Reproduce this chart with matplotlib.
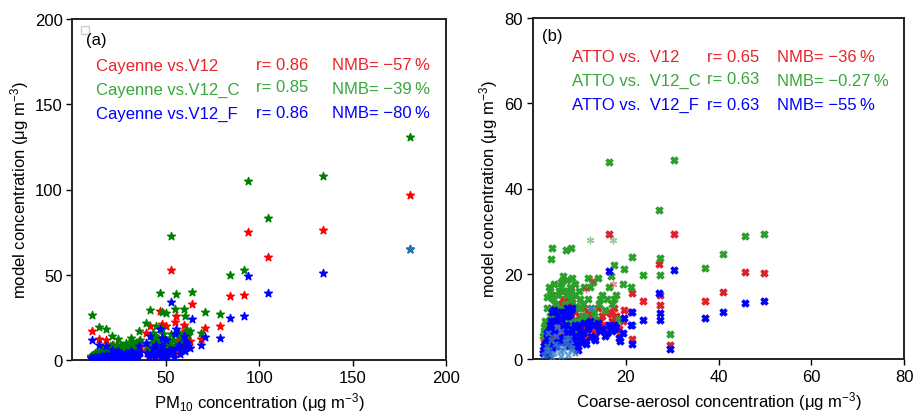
import matplotlib
matplotlib.use("Agg")
import matplotlib.pyplot as plt
from matplotlib.patches import Rectangle

plt.rcParams['font.family'] = ['Liberation Sans', 'DejaVu Sans']
plt.rcParams['mathtext.fontset'] = 'custom'
plt.rcParams['mathtext.rm'] = 'Liberation Sans'
plt.rcParams['mathtext.it'] = 'Liberation Sans'

# ---------------- Panel (a) data: Cayenne PM10 vs model ----------------
obs_a = [181, 134, 94, 105, 53, 84.4, 92, 64, 79, 71, 69, 55.6, 46.7, 41.7, 60, 60.5,
         55, 48, 50, 39.5, 35.6, 10.5, 14.4, 18, 21.5, 24.5, 31.6, 61.5, 57, 45, 43,
         52, 47, 50, 42, 40,
         10, 11, 12, 13, 14, 15, 16, 17, 18, 19, 20, 21, 22, 23, 24, 25, 26, 27, 28,
         29, 30, 31, 32, 33, 34, 35, 36,
         43, 44, 46, 48, 49, 51, 53, 54, 56, 58, 59, 62,
         10.8, 12.5, 14.8, 16.5, 19.5, 22.5, 25.5, 27.5, 29.5, 32.5, 34.5,
         41, 42.5, 44.5, 45.5, 47.5, 48.5, 50.5, 52.5, 54.5, 57.5, 60.5, 63]
v12_a = [97, 76, 75, 60.5, 53, 37.5, 38, 33, 19.7, 18.6, 12.5, 26, 28.5, 20, 20.5, 17,
         22.5, 21, 20, 16, 11, 17, 12.6, 11.8, 9, 8, 8, 14, 12, 13, 10,
         8, 6, 4, 5, 6,
         1.5, 2, 2.5, 3, 2, 3.5, 4, 3, 5, 4, 5.5, 3, 6, 4.5, 5, 3, 6, 5, 4,
         6.5, 5, 3.5, 7, 5, 6, 4, 7.5,
         7, 9, 5, 11, 8, 6, 9, 7, 10, 8, 9, 10,
         1, 1.5, 2, 2.5, 2, 3, 2.5, 3.5, 3, 4, 5,
         3, 6, 4, 8, 3, 9, 5, 7, 4, 6, 8, 11]
v12c_a = [131, 108, 105, 83.5, 73, 50, 53, 40, 27, 28, 16, 39, 39.5, 29.5, 30, 26,
          30, 28, 27.5, 21.5, 17, 26.5, 19.5, 18, 14, 12.6, 13, 17.5, 16, 20, 16,
          12, 10, 8, 8, 9,
          2.5, 3, 4, 4.5, 3, 5, 6, 5, 7.5, 6, 8, 5, 9, 7, 8, 5, 9, 8.5, 6,
          10, 8, 6, 11, 8, 10, 7, 12,
          12, 14, 9, 18, 13, 11, 15, 12, 16, 13, 14, 15,
          1.5, 2.5, 3, 4, 3.5, 5, 4, 6, 5, 6.5, 8,
          5, 10, 7, 13, 5, 15, 8, 11, 7, 10, 13, 17]
v12f_a = [65, 51, 49, 39.5, 34, 24.5, 25.7, 24, 13, 13.4, 8.7, 18, 18, 14, 14, 11,
          15, 13, 12, 10, 8, 12, 9, 8, 6, 5.5, 5, 10, 9, 9, 7,
          6, 4, 2, 3, 4,
          1, 1, 1.5, 1.5, 1, 2, 2.5, 1.5, 3, 2, 3, 1.5, 3.5, 2.5, 3, 1.5, 3.5, 3, 2,
          4, 3, 2, 4, 3, 3.5, 2, 4.5,
          4, 6, 3, 8, 5, 4, 6, 5, 7, 6, 7, 8,
          0.5, 0.8, 1, 1.2, 1, 1.5, 1.2, 2, 1.5, 2, 2.5,
          1.5, 3.5, 2, 5, 1.5, 6, 3, 4.5, 2, 3.5, 5, 7]

labels_a = ["Cayenne vs.V12", "Cayenne vs.V12_C", "Cayenne vs.V12_F"]
r_a = ["r= 0.86", "r= 0.85", "r= 0.86"]
nmb_a = ["NMB= \u221257\u2009%", "NMB= \u221239\u2009%", "NMB= \u221280\u2009%"]

# ---------------- Panel (b) data: ATTO coarse aerosol vs model ----------------
obs_b = [16.5, 30.4, 27.2, 27.4, 27.3, 45.7, 49.9, 40.9, 37.1, 29.5, 23.8, 21.4, 21.4,
         19.7, 19.5, 18.9, 17.4, 16.8, 21.2, 4.15, 4.0, 7.2, 8.2,
         2.2, 2.5, 2.8, 3.0, 3.2, 3.5, 3.8, 4.0, 4.2, 4.5, 4.8, 5.0, 5.3, 5.6, 6.0,
         6.3, 6.6, 7.0, 7.3, 7.6, 8.0, 8.3, 8.6, 9.0, 9.4, 9.8, 10.2, 10.6, 11.0,
         11.5, 12.0, 12.5, 13.0, 13.5, 14.0, 14.5, 15.0, 15.5, 16.0, 16.5, 17.0,
         17.5, 18.0, 18.5,
         2.4, 2.7, 3.1, 3.4, 3.7, 4.1, 4.4, 4.7, 5.1, 5.4, 5.8, 6.1, 6.5, 6.8, 7.1,
         7.5, 7.8, 8.2, 8.5, 8.8, 9.2, 9.6, 10.0, 10.4, 10.8, 11.2, 11.8, 12.3, 13.2,
         14.2]
v12_b = [29.4, 29.4, 22.3, 15, 12.6, 20.3, 20.1, 15.8, 13.6, 3.4, 13.5, 15.6, 4.8,
         11.6, 9, 6, 12, 10.5, 11, 15, 12, 14, 16,
         2.0, 4.0, 3.0, 6.0, 2.5, 8.0, 5.0, 9.5, 3.5, 11.0, 6.5, 4.0, 10.0, 7.5, 12.0,
         5.5, 14.0, 8.0, 16.0, 6.0, 13.0, 9.5, 4.5, 11.0, 7.0, 3.0, 9.0, 6.0, 12.0,
         5.0, 10.5, 8.0, 11.0, 6.0, 12.0, 9.0, 10.0, 7.5, 8.0, 11.0, 9.0,
         8.5, 10.0, 7.0,
         3, 5, 7, 4, 9, 6, 10, 8, 5, 11, 7, 13, 9, 6, 10,
         12, 5, 8, 14, 7, 9, 5, 10, 7, 8, 6, 9, 11, 7, 9]
v12c_b = [46.3, 46.6, 35, 23.7, 19.8, 28.8, 29.4, 24.6, 21.4, 5.8, 19.6, 24, 7.9,
          21, 17.5, 9.5, 22, 19.5, 17, 26.1, 23.5, 25.5, 26,
          5.5, 7.5, 8.0, 14.5, 5.0, 17.0, 10.0, 15.0, 7.0, 17.5, 12.0, 9.0, 11.5, 16.0,
          18.0, 10.5, 19.5, 13.0, 18.5, 11.0, 17.0, 15.5, 8.5, 17.5, 12.5, 6.0, 14.0,
          10.0, 17.0, 9.5, 19.0, 12.0, 18.0, 9.5, 19.0, 14.0, 15.0, 11.5, 14.0, 17.0,
          13.0, 14.0, 15.0, 9.5,
          6, 9, 12, 8, 16, 11, 14, 13, 10, 15, 12, 17, 16, 11, 15,
          16, 9, 14, 19, 12, 15, 9, 16, 12, 13, 10, 14, 17, 11, 13]
v12f_b = [20.7, 20.8, 15.6, 10.8, 9.1, 13.2, 13.5, 11, 9.6, 2.3, 9.1, 11, 3.5,
          9.6, 6, 4.2, 8, 7, 8, 11, 9, 10, 11.5,
          1.5, 3.0, 2.0, 5.0, 1.0, 6.5, 3.5, 7.0, 2.5, 11.5, 4.5, 3.0, 9.0, 5.0, 9.5,
          4.0, 11.0, 6.0, 12.0, 4.5, 10.5, 7.0, 3.0, 8.0, 5.5, 2.0, 6.5, 4.0, 8.5,
          3.5, 7.5, 5.5, 8.0, 4.5, 8.5, 6.5, 7.0, 5.5, 6.0, 8.0, 6.5,
          7.0, 7.5, 5.0,
          2, 3.5, 6, 2.5, 8, 4, 9, 6.5, 3, 10, 5, 11, 7.5, 4, 8,
          10, 3, 6, 12, 5, 7.5, 3.5, 8, 5, 6, 4, 7, 9, 5, 7]
# overlapping faint series near the origin
obs_b_ov = [2.5, 3.0, 3.5, 4.0, 4.5, 5.0, 5.5, 6.0, 6.5, 7.0, 7.5, 8.0, 8.5, 9.0,
            3.2, 4.2, 5.2, 6.2, 7.2, 8.2, 12.5, 2.8, 3.8, 4.8, 5.8, 6.8, 7.8]
mod_b_ov = [1.0, 3.0, 2.0, 4.5, 1.5, 5.5, 3.0, 6.5, 2.0, 4.0, 1.0, 3.5, 2.5, 1.5,
            6.0, 0.5, 7.5, 0.8, 5.0, 2.2, 12.0, 2.0, 1.2, 3.5, 1.8, 2.8, 5.0]
# faint asterisk points
ast_x = [12.3, 17.3, 17.2, 12.8, 11.5]
ast_y = [28.0, 28.0, 17.7, 18.5, 16.5]
ast_c = ['g', 'g', 'r', 'r', 'r']

labels_b = ["ATTO vs.  V12", "ATTO vs.  V12_C", "ATTO vs.  V12_F"]
r_b = ["r= 0.65", "r= 0.63", "r= 0.63"]
nmb_b = ["NMB= \u221236\u2009%", "NMB= \u22120.27\u2009%", "NMB= \u221255\u2009%"]

# ---------------- Figure ----------------
fig = plt.figure(figsize=(9.19, 4.14), dpi=100)
W, H = 919, 414
axa = fig.add_axes([72.3 / W, 1 - 361 / H, (446 - 72.3) / W, (361 - 20) / H])
axb = fig.add_axes([532.7 / W, 1 - 360 / H, (904.3 - 532.7) / W, (360 - 19) / H])

pa_cols = ['#ff0000', '#008000', '#0000ff']
ta_cols = ['#e8232a', '#3aa63a', '#0000ff']
pb_cols = ['#e0202a', '#2ca02c', '#0000ff']

ms_a = 34
for yv, c in zip([v12_a, v12c_a, v12f_a], pa_cols):
    axa.scatter(obs_a, yv, marker='*', s=ms_a, color=c, edgecolors=c, lw=1.0, zorder=3)
axa.scatter([obs_a[0]], [v12f_a[0]], marker='*', s=ms_a, color='#1f77b4',
            edgecolors='#1f77b4', lw=1.0, zorder=4)

ms_b = 26
axb.scatter(obs_b, v12_b, marker='X', s=ms_b, color=pb_cols[0], edgecolors=pb_cols[0], lw=0.8, zorder=3)
axb.scatter(obs_b, v12c_b, marker='X', s=ms_b, color=pb_cols[1], edgecolors=pb_cols[1], lw=0.8, zorder=3)
axb.scatter(obs_b, v12f_b, marker='X', s=ms_b, color=pb_cols[2], edgecolors=pb_cols[2], lw=0.8, zorder=4)
axb.scatter(obs_b_ov, mod_b_ov, marker='X', s=ms_b, color='#3a7fc0', alpha=0.75, lw=0, zorder=5)
for x, y, c in zip(ast_x, ast_y, ast_c):
    col = '#2ca02c' if c == 'g' else '#e0202a'
    axb.scatter([x], [y], marker=(6, 2, 0), s=22, color=col, alpha=0.5, lw=1.0, zorder=3)

fs = 12
for ax, xmax, ymax, xt, yt in [(axa, 200, 200, [50, 100, 150, 200], [0, 50, 100, 150, 200]),
                               (axb, 80, 80, [20, 40, 60, 80], [0, 20, 40, 60, 80])]:
    ax.set_xlim(0, xmax)
    ax.set_ylim(0, ymax)
    ax.set_xticks(xt)
    ax.set_yticks(yt)
    ax.tick_params(direction='out', length=4, width=1, labelsize=fs, pad=3, colors='black')
    for s in ax.spines.values():
        s.set_linewidth(1.4)
        s.set_color('#222222')
    ax.set_ylabel("model concentration (\u03bcg m$^{-3}$)", fontsize=fs, labelpad=3)

axa.set_xlabel("PM$_{10}$ concentration (\u03bcg m$^{-3}$)", fontsize=fs, labelpad=4)
axb.set_xlabel("Coarse-aerosol concentration (\u03bcg m$^{-3}$)", fontsize=fs, labelpad=4)

# small empty legend box in panel a
axa.add_patch(Rectangle((0.022, 0.955), 0.022, 0.025, transform=axa.transAxes,
                        fill=False, edgecolor='#cccccc', lw=1))

# annotations (figure pixel positions)
def ftext(x, y, s, c, **kw):
    fig.text(x / W, 1 - y / H, s, color=c, fontsize=fs, va='center', ha='left', **kw)

ftext(86, 40, "(a)", 'black')
rows_a = [66, 90, 114]
for i in range(3):
    ftext(96, rows_a[i], labels_a[i], ta_cols[i])
    ftext(256, rows_a[i] - (2 if i == 1 else 0), r_a[i], ta_cols[i])
    ftext(332, rows_a[i], nmb_a[i], ta_cols[i])

ftext(542, 37, "(b)", 'black')
rows_b = [58, 81, 105]
for i in range(3):
    ftext(572, rows_b[i], labels_b[i], ta_cols[i])
    ftext(707, rows_b[i] - (2 if i == 1 else 0), r_b[i], ta_cols[i])
    ftext(777, rows_b[i], nmb_b[i], ta_cols[i])

fig.savefig("out.png", dpi=100)
